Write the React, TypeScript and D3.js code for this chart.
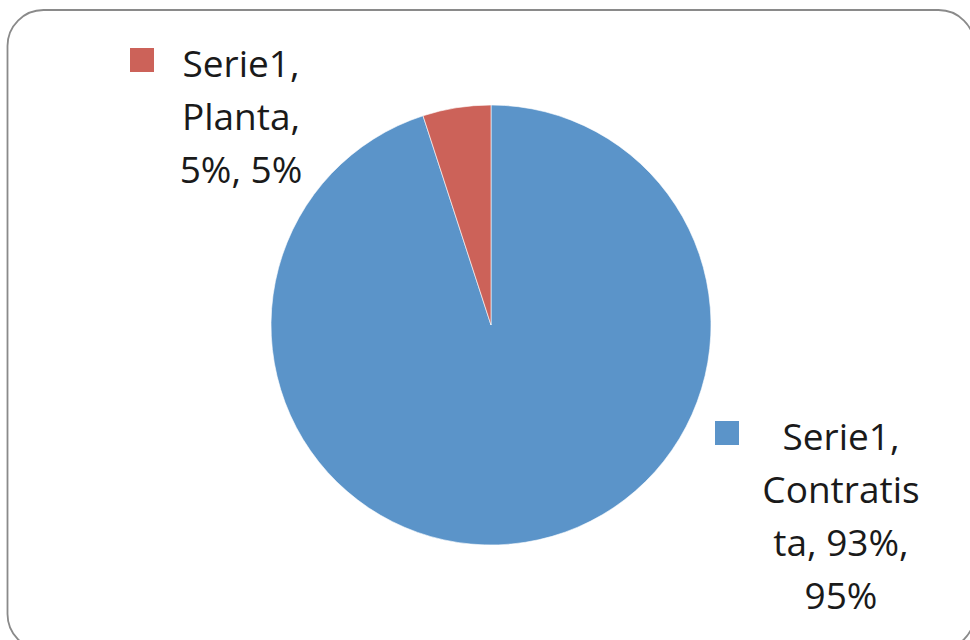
import React from "react";
import * as d3 from "d3";

const categories = ["Contratista", "Planta"];
const values = [95, 5];
const colors = ["#5B94C9", "#CC6259"];
const labelLines = [
  ["Serie1,", "Contratis", "ta, 93%,", "95%"],
  ["Serie1,", "Planta,", "5%, 5%"],
];

const W = 970;
const H = 640;

export default function App() {
  const cx = 491;
  const cy = 325;
  const r = 220;
  const data = categories.map((c, i) => ({ c, v: values[i], i }));
  const pie = d3.pie<any>().value((d) => d.v).sort(null);
  const arcs = pie(data);
  const arc = d3.arc<any>().innerRadius(0).outerRadius(r);

  // label anchor positions (center x, first baseline y, marker x)
  const labelPos = [
    { x: 841, y: 450, mx: 715 },
    { x: 241, y: 77, mx: 130 },
  ];
  const lh = 53;

  return (
    <div style={{ position: "absolute", left: 0, top: 0 }}>
      <svg width={W} height={H} style={{ display: "block" }}>
        <rect x={0} y={0} width={W} height={H} fill="#fff" />
        <rect
          x={7.5}
          y={10}
          width={967}
          height={640}
          rx={36}
          ry={36}
          fill="#fff"
          stroke="#8a8a8a"
          strokeWidth={1.8}
        />
        <g transform={`translate(${cx},${cy})`}>
          {arcs.map((a, i) => (
            <path key={i} d={arc(a) as string} fill={colors[a.data.i]} stroke="#fff" strokeWidth={0.6} />
          ))}
        </g>
        {labelLines.map((lines, i) => {
          const p = labelPos[i];
          return (
            <g key={i}>
              <rect x={p.mx} y={p.y - 29} width={24} height={24} fill={colors[i]} />
              <text
                fontFamily="'Open Sans', sans-serif"
                fontSize={37}
                fill="#1a1a1a"
                textAnchor="middle"
              >
                {lines.map((l, j) => (
                  <tspan key={j} x={p.x} y={p.y + j * lh}>
                    {l}
                  </tspan>
                ))}
              </text>
            </g>
          );
        })}
      </svg>
    </div>
  );
}
